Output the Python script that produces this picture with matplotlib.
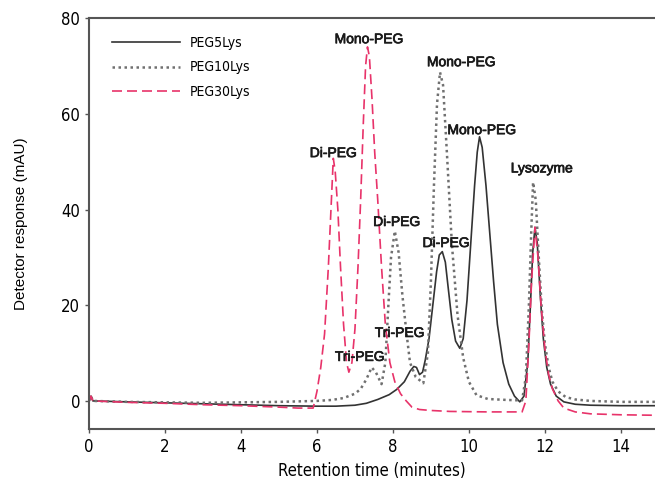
import matplotlib.pyplot as plt
import matplotlib.patheffects as pe
from matplotlib import font_manager

# retention time (min) / detector response (mAU) for each conjugate
peg5_t = [0, 0.05, 0.1, 1, 2, 3, 4, 5, 6, 6.5, 7, 7.3, 7.6, 7.9, 8.1, 8.3, 8.45, 8.55,
          8.62, 8.7, 8.78, 8.85, 8.95, 9.05, 9.15, 9.22, 9.3, 9.38, 9.45, 9.55, 9.65,
          9.76, 9.85, 9.95, 10.05, 10.15, 10.22, 10.28, 10.35, 10.45, 10.55, 10.65,
          10.75, 10.9, 11.05, 11.2, 11.34, 11.45, 11.55, 11.62, 11.68, 11.74, 11.8,
          11.88, 11.96, 12.05, 12.15, 12.3, 12.5, 12.8, 13.2, 14, 14.9]
peg5_y = [0, 1, 0, -0.2, -0.4, -0.6, -0.8, -1, -1.1, -1.1, -0.9, -0.5, 0.3, 1.3, 2.4,
          4, 6.2, 7.2, 7, 5.5, 6, 8.5, 13, 20, 27, 30.5, 31.2, 29, 24, 17, 12.5, 11,
          13, 21, 33, 45, 52, 55.2, 53, 45, 35, 25, 16, 8, 3.5, 1, -0.2, 1, 8, 20, 31,
          36.3, 33, 22, 13, 7, 3.5, 1, -0.2, -0.7, -0.9, -1, -1]

peg10_t = [0, 0.05, 0.1, 1, 2, 3, 4, 5, 6, 6.4, 6.7, 7.0, 7.15, 7.3, 7.44, 7.55, 7.7,
           7.8, 7.88, 7.95, 8.05, 8.15, 8.25, 8.36, 8.45, 8.6, 8.8, 8.92, 9.0, 9.08,
           9.16, 9.24, 9.32, 9.42, 9.55, 9.7, 9.85, 10.0, 10.2, 10.5, 11.0, 11.4, 11.5,
           11.58, 11.64, 11.69, 11.76, 11.84, 11.92, 12.0, 12.1, 12.2, 12.35, 12.55,
           12.8, 13.2, 14, 14.9]
peg10_y = [0, 1, 0, -0.2, -0.3, -0.4, -0.3, -0.2, 0, 0.2, 0.6, 1.5, 2.5, 4.5, 7, 6,
           3.5, 8, 20, 30, 35.5, 31, 22, 14, 8, 5, 3.7, 10, 25, 45, 62, 68.7, 66, 52,
           33, 18, 9, 4, 1.2, 0.4, 0.2, 0.1, 5, 20, 35, 45.7, 42, 30, 19, 12, 7, 4, 2,
           0.8, 0.3, 0, -0.2, -0.2]

peg30_t = [0, 0.05, 0.1, 1, 2, 3, 4, 5, 5.5, 5.9, 6.0, 6.1, 6.2, 6.3, 6.38, 6.43,
           6.48, 6.55, 6.62, 6.7, 6.78, 6.84, 6.92, 7.0, 7.08, 7.15, 7.22, 7.28, 7.33,
           7.38, 7.45, 7.52, 7.6, 7.7, 7.8, 7.92, 8.05, 8.2, 8.35, 8.5, 8.7, 9.0, 9.5,
           10.5, 11.4, 11.5, 11.58, 11.65, 11.74, 11.82, 11.9, 12.0, 12.1, 12.2, 12.35,
           12.5, 12.8, 13.2, 14, 14.9]
peg30_y = [0, 1, 0, -0.3, -0.5, -0.8, -1, -1.3, -1.5, -1.5, 2, 7, 14, 28, 42, 50.7,
           48, 40, 28, 16, 8, 6, 8, 15, 28, 42, 58, 70, 74, 72, 63, 52, 42, 28, 16, 8,
           4, 1.5, 0, -1.3, -1.8, -2, -2.2, -2.3, -2.3, 0, 12, 25, 36.3, 30, 20, 11,
           5.5, 2.5, 0, -1.5, -2.3, -2.7, -2.9, -3]

# peak annotations: (text, time, response)
peak_labels = [
    ("Mono-PEG", 7.37, 75.6),
    ("Di-PEG", 6.43, 51.8),
    ("Mono-PEG", 9.8, 70.8),
    ("Mono-PEG", 10.34, 56.6),
    ("Lysozyme", 11.92, 48.6),
    ("Di-PEG", 8.1, 37.4),
    ("Di-PEG", 9.4, 33.0),
    ("Tri-PEG", 8.18, 14.2),
    ("Tri-PEG", 7.13, 9.2),
]

# condensed face for ticks / legend / x label
narrow = font_manager.FontProperties(family="DejaVu Sans", stretch="condensed", size=12)
narrow_leg = font_manager.FontProperties(family="DejaVu Sans", stretch="condensed", size=10)

fig = plt.figure(figsize=(6.55, 4.91), dpi=100)
ax = fig.add_axes([0.136, 0.126, 0.864, 0.837])

ax.plot(peg5_t, peg5_y, color="#333333", lw=1.2, label="PEG5Lys")
ax.plot(peg10_t, peg10_y, color="#707070", lw=1.8, ls=(0, (1, 1.4)), label="PEG10Lys")
ax.plot(peg30_t, peg30_y, color="#e8336a", lw=1.2, ls=(0, (6, 3)), label="PEG30Lys")

# slightly heavier peak names
bold_ish = [pe.withStroke(linewidth=0.5, foreground="#1a1a1a")]
for txt, t, y in peak_labels:
    ax.text(t, y, txt, ha="center", va="center", fontsize=10, color="#1a1a1a",
            family="Liberation Sans", path_effects=bold_ish)

ax.set_xlim(0, 14.9)
ax.set_ylim(-5.9, 80)
ax.set_xticks(range(0, 15, 2))
ax.set_yticks(range(0, 81, 20))
for lab in ax.get_xticklabels() + ax.get_yticklabels():
    lab.set_fontproperties(narrow)
ax.tick_params(length=3, width=1, color="#555555")
ax.set_xlabel("Retention time (minutes)", fontproperties=narrow, labelpad=4)
ax.set_ylabel("Detector response (mAU)", fontsize=11, family="Liberation Sans", labelpad=24)

ax.spines["right"].set_visible(False)
for s in ("top", "left", "bottom"):
    ax.spines[s].set_color("#555555")
    ax.spines[s].set_linewidth(1.5)

ax.legend(loc="upper left", bbox_to_anchor=(0.03, 0.97), frameon=False,
          handlelength=4.9, labelspacing=0.75, borderaxespad=0, handletextpad=0.7,
          prop=narrow_leg)

fig.savefig("out.png", dpi=100)
